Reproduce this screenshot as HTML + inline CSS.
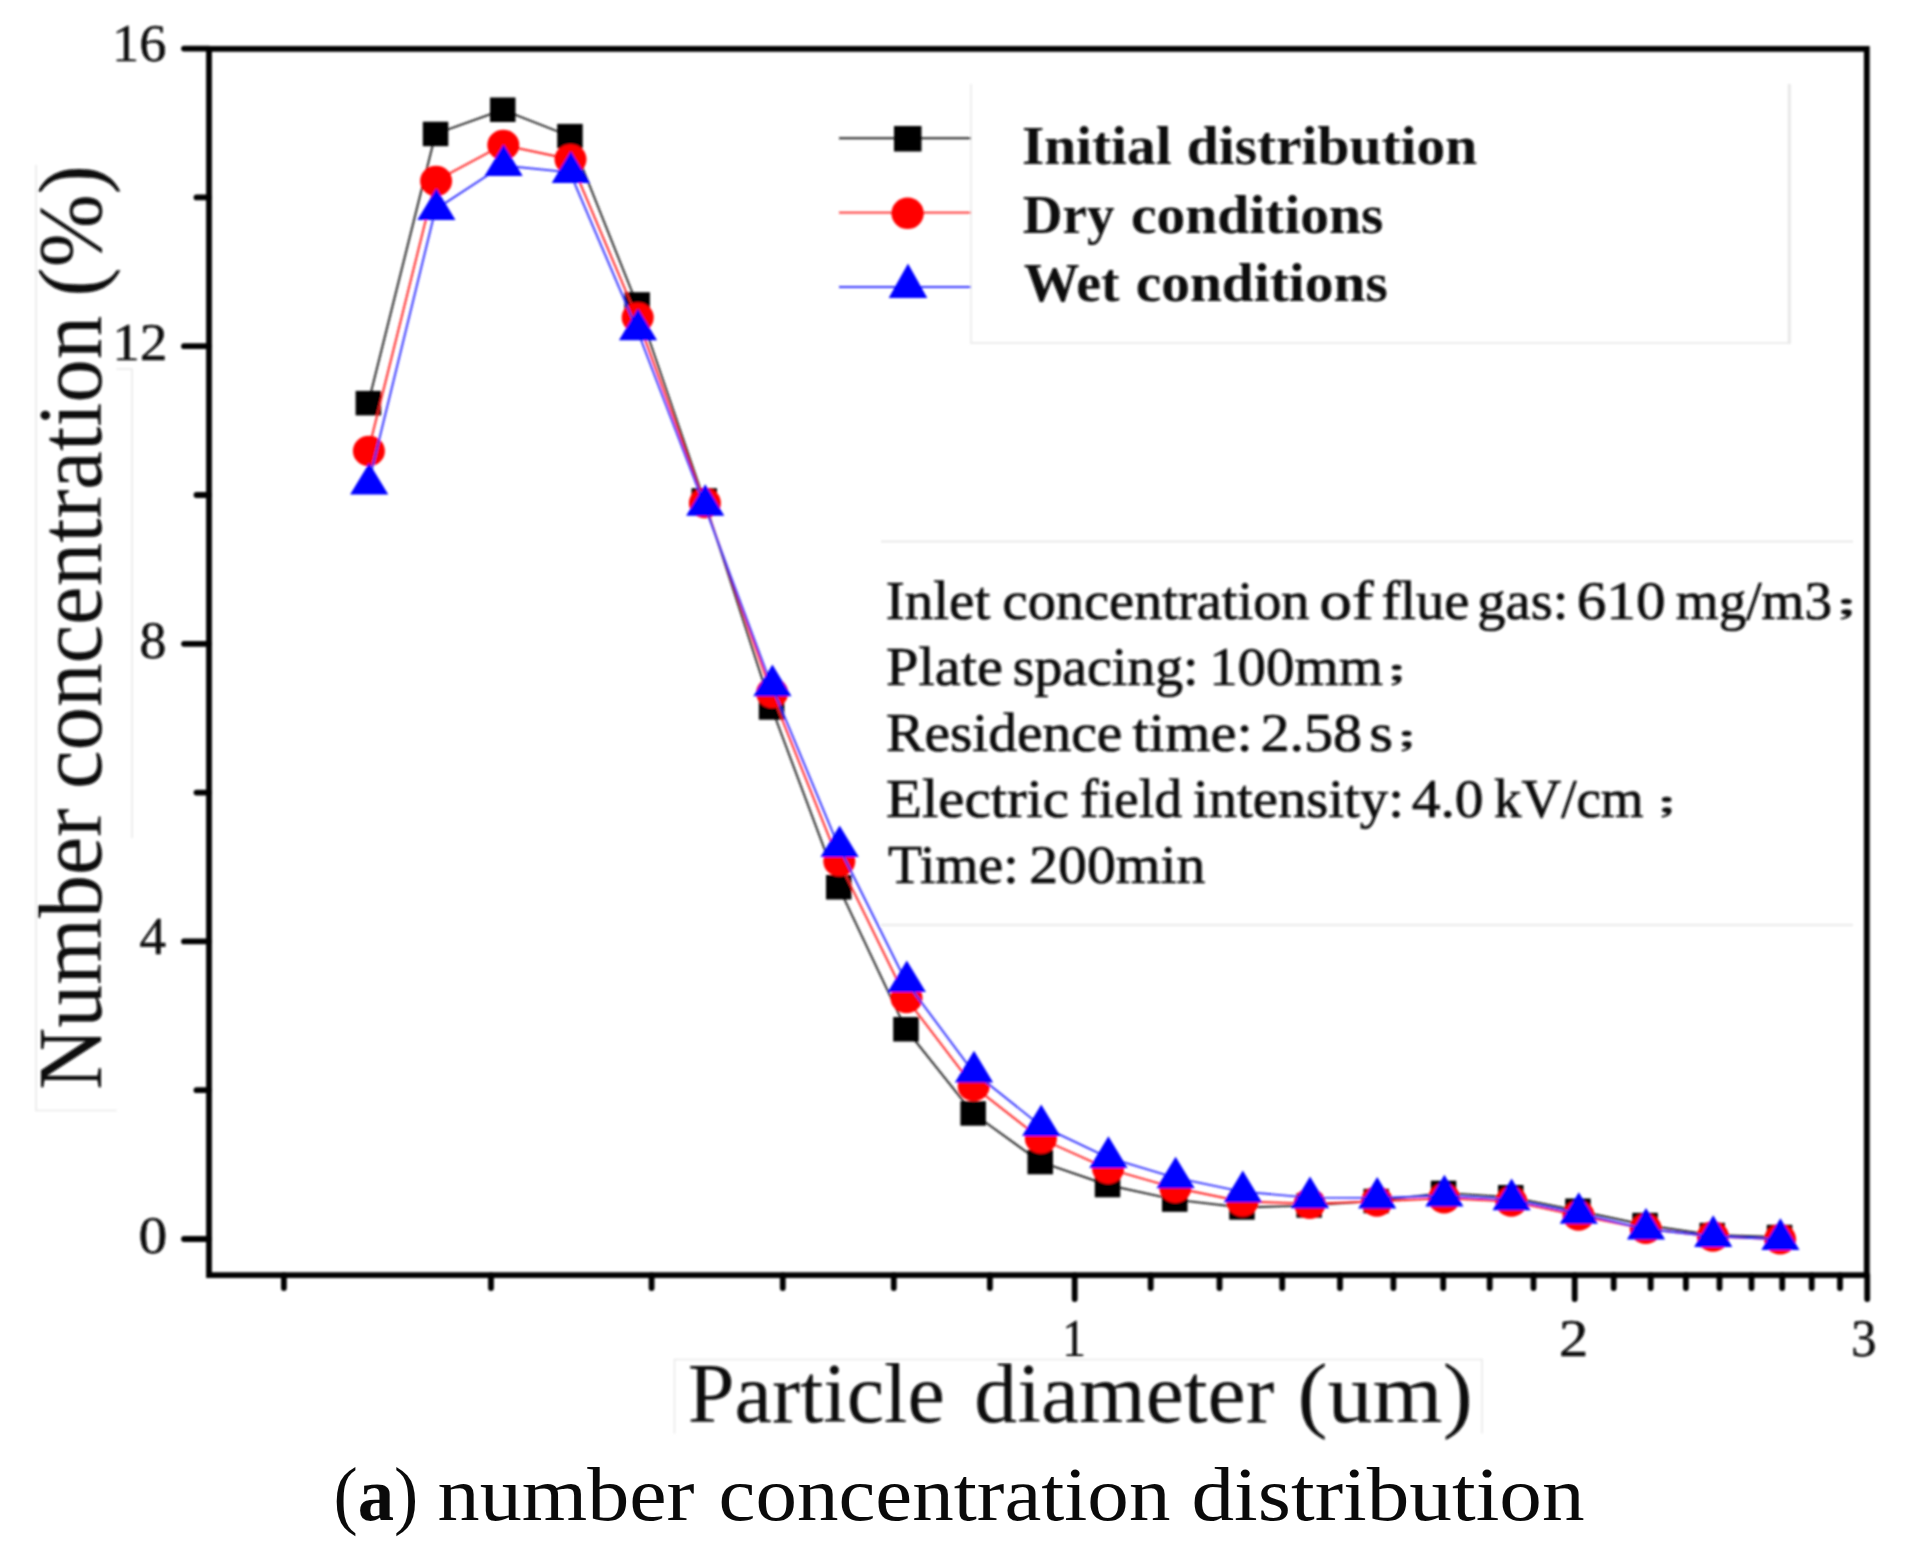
<!DOCTYPE html>
<html lang="en"><head><meta charset="utf-8"><title>(a) number concentration distribution</title>
<style>html,body{margin:0;padding:0;background:#fff}body{width:1906px;height:1568px;overflow:hidden}svg{display:block}text{font-family:"Liberation Serif","Noto Serif CJK SC",serif;fill:#0a0a0a}.cj{font-family:"Noto Serif CJK SC","Noto Sans CJK SC",serif;font-weight:bold}</style></head><body>
<svg width="1906" height="1568" viewBox="0 0 1906 1568">
<rect width="1906" height="1568" fill="#fff"/>
<defs><filter id="soft" filterUnits="userSpaceOnUse" x="0" y="0" width="1906" height="1568"><feGaussianBlur stdDeviation="0.8"/></filter></defs>
<g filter="url(#soft)">
<g fill="none" stroke="#e9e9e9" stroke-width="1.6">
<path d="M36 165V1110.5H116.5"/>
<path d="M116.5 369H132V838"/>
<path d="M674.5 1433.5V1359.5H1482V1433.5"/>
</g>
<path d="M971 84V343H1789.3" fill="none" stroke="#ececec" stroke-width="1.8"/>
<path d="M1789.3 84V344" fill="none" stroke="#e8e8e8" stroke-width="3"/>
<g stroke="#e2e2e2" stroke-width="1.6"><path d="M881 541.5H1853"/><path d="M881 925H1853"/></g>
<polyline points="368.3,403.1 435.5,133.9 502.7,109.8 569.9,136.2 637.1,304.5 704.3,500.5 771.5,707.5 838.7,887.2 905.9,1029.2 973.1,1113.4 1040.3,1162.0 1107.5,1185.0 1174.7,1199.6 1241.9,1207.5 1309.1,1205.4 1376.3,1201.0 1443.5,1192.9 1510.7,1197.2 1577.9,1210.8 1645.1,1225.0 1712.3,1235.0 1779.5,1237.0" fill="none" stroke="#222" stroke-width="1.9"/>
<g fill="#000">
<rect x="355.6" y="390.9" width="25.5" height="24.5"/>
<rect x="422.8" y="121.7" width="25.5" height="24.5"/>
<rect x="490.0" y="97.5" width="25.5" height="24.5"/>
<rect x="557.2" y="123.9" width="25.5" height="24.5"/>
<rect x="624.4" y="292.2" width="25.5" height="24.5"/>
<rect x="691.5" y="488.2" width="25.5" height="24.5"/>
<rect x="758.8" y="695.2" width="25.5" height="24.5"/>
<rect x="826.0" y="875.0" width="25.5" height="24.5"/>
<rect x="893.2" y="1017.0" width="25.5" height="24.5"/>
<rect x="960.4" y="1101.2" width="25.5" height="24.5"/>
<rect x="1027.5" y="1149.8" width="25.5" height="24.5"/>
<rect x="1094.8" y="1172.8" width="25.5" height="24.5"/>
<rect x="1162.0" y="1187.3" width="25.5" height="24.5"/>
<rect x="1229.2" y="1195.2" width="25.5" height="24.5"/>
<rect x="1296.4" y="1193.2" width="25.5" height="24.5"/>
<rect x="1363.5" y="1188.8" width="25.5" height="24.5"/>
<rect x="1430.8" y="1180.7" width="25.5" height="24.5"/>
<rect x="1498.0" y="1185.0" width="25.5" height="24.5"/>
<rect x="1565.2" y="1198.5" width="25.5" height="24.5"/>
<rect x="1632.3" y="1212.8" width="25.5" height="24.5"/>
<rect x="1699.5" y="1222.8" width="25.5" height="24.5"/>
<rect x="1766.8" y="1224.8" width="25.5" height="24.5"/>
</g>
<polyline points="368.3,451.0 435.5,181.0 502.7,145.0 569.9,159.2 637.1,317.6 704.3,503.0 771.5,692.9 838.7,861.2 905.9,998.0 973.1,1086.0 1040.3,1138.5 1107.5,1168.6 1174.7,1187.8 1241.9,1201.5 1309.1,1203.6 1376.3,1201.5 1443.5,1198.3 1510.7,1201.5 1577.9,1215.5 1645.1,1228.7 1712.3,1236.5 1779.5,1239.2" fill="none" stroke="#ff2020" stroke-width="1.9"/>
<g fill="#ff0000">
<ellipse cx="368.9" cy="451.0" rx="16" ry="15.3"/>
<ellipse cx="436.1" cy="181.0" rx="16" ry="15.3"/>
<ellipse cx="503.3" cy="145.0" rx="16" ry="15.3"/>
<ellipse cx="570.5" cy="159.2" rx="16" ry="15.3"/>
<ellipse cx="637.7" cy="317.6" rx="16" ry="15.3"/>
<ellipse cx="704.9" cy="503.0" rx="16" ry="15.3"/>
<ellipse cx="772.1" cy="692.9" rx="16" ry="15.3"/>
<ellipse cx="839.3" cy="861.2" rx="16" ry="15.3"/>
<ellipse cx="906.5" cy="998.0" rx="16" ry="15.3"/>
<ellipse cx="973.7" cy="1086.0" rx="16" ry="15.3"/>
<ellipse cx="1040.9" cy="1138.5" rx="16" ry="15.3"/>
<ellipse cx="1108.1" cy="1168.6" rx="16" ry="15.3"/>
<ellipse cx="1175.3" cy="1187.8" rx="16" ry="15.3"/>
<ellipse cx="1242.5" cy="1201.5" rx="16" ry="15.3"/>
<ellipse cx="1309.7" cy="1203.6" rx="16" ry="15.3"/>
<ellipse cx="1376.9" cy="1201.5" rx="16" ry="15.3"/>
<ellipse cx="1444.1" cy="1198.3" rx="16" ry="15.3"/>
<ellipse cx="1511.3" cy="1201.5" rx="16" ry="15.3"/>
<ellipse cx="1578.5" cy="1215.5" rx="16" ry="15.3"/>
<ellipse cx="1645.7" cy="1228.7" rx="16" ry="15.3"/>
<ellipse cx="1712.9" cy="1236.5" rx="16" ry="15.3"/>
<ellipse cx="1780.1" cy="1239.2" rx="16" ry="15.3"/>
</g>
<polyline points="368.3,483.9 435.5,209.4 502.7,165.5 569.9,172.3 637.1,329.7 704.3,505.2 771.5,685.6 838.7,846.5 905.9,981.5 973.1,1071.8 1040.3,1125.4 1107.5,1157.3 1174.7,1177.7 1241.9,1191.6 1309.1,1197.6 1376.3,1197.9 1443.5,1195.8 1510.7,1199.6 1577.9,1213.2 1645.1,1229.0 1712.3,1236.3 1779.5,1239.3" fill="none" stroke="#3030ff" stroke-width="1.9"/>
<g fill="#0000ff">
<path d="M369.2 462.9L388.3 494.5H350.1Z"/>
<path d="M436.4 188.4L455.5 220.0H417.3Z"/>
<path d="M503.6 144.5L522.7 176.1H484.5Z"/>
<path d="M570.8 151.3L589.9 182.9H551.7Z"/>
<path d="M638.0 308.7L657.1 340.3H618.9Z"/>
<path d="M705.2 484.2L724.3 515.8H686.1Z"/>
<path d="M772.4 664.6L791.5 696.2H753.3Z"/>
<path d="M839.6 825.5L858.7 857.1H820.5Z"/>
<path d="M906.8 960.5L925.9 992.1H887.7Z"/>
<path d="M974.0 1050.8L993.1 1082.4H954.9Z"/>
<path d="M1041.2 1104.4L1060.3 1136.0H1022.1Z"/>
<path d="M1108.4 1136.3L1127.5 1167.9H1089.3Z"/>
<path d="M1175.6 1156.7L1194.7 1188.3H1156.5Z"/>
<path d="M1242.8 1170.6L1261.9 1202.2H1223.7Z"/>
<path d="M1310.0 1176.6L1329.1 1208.2H1290.9Z"/>
<path d="M1377.2 1176.9L1396.3 1208.5H1358.1Z"/>
<path d="M1444.4 1174.8L1463.5 1206.4H1425.3Z"/>
<path d="M1511.6 1178.6L1530.7 1210.2H1492.5Z"/>
<path d="M1578.8 1192.2L1597.9 1223.8H1559.7Z"/>
<path d="M1646.0 1208.0L1665.1 1239.6H1626.9Z"/>
<path d="M1713.2 1215.3L1732.3 1246.9H1694.1Z"/>
<path d="M1780.4 1218.3L1799.5 1249.9H1761.3Z"/>
</g>
<g stroke-width="1.9" fill="none"><path d="M839 138.3H971" stroke="#222"/><path d="M839 212.6H971" stroke="#ff2020"/><path d="M839 287H971" stroke="#3030ff"/></g>
<rect x="894" y="126" width="27.5" height="25.5" fill="#000"/>
<ellipse cx="907.6" cy="213.3" rx="16.2" ry="15.8" fill="#f00"/>
<path d="M908 263.5L927.3 298H888.7Z" fill="#00f"/>
<g font-weight="bold" font-size="54px">
<text y="163.9"><tspan x="1021.9" textLength="149.7" lengthAdjust="spacingAndGlyphs">Initial</tspan> <tspan x="1186.8" textLength="290.3" lengthAdjust="spacingAndGlyphs">distribution</tspan></text>
<text y="232.6"><tspan x="1022.8" textLength="91.6" lengthAdjust="spacingAndGlyphs">Dry</tspan> <tspan x="1130.9" textLength="252.5" lengthAdjust="spacingAndGlyphs">conditions</tspan></text>
<text y="301.3"><tspan x="1023.7" textLength="95.9" lengthAdjust="spacingAndGlyphs">Wet</tspan> <tspan x="1135.7" textLength="252.1" lengthAdjust="spacingAndGlyphs">conditions</tspan></text>
</g>
<g font-size="54px" fill="#111" stroke="#111" stroke-width="0.7">
<text y="618.6"><tspan x="885.7" textLength="104.6" lengthAdjust="spacingAndGlyphs">Inlet</tspan> <tspan x="1002.6" textLength="307.0" lengthAdjust="spacingAndGlyphs">concentration</tspan> <tspan x="1319.6" textLength="54.0" lengthAdjust="spacingAndGlyphs">of</tspan> <tspan x="1381.4" textLength="88.0" lengthAdjust="spacingAndGlyphs">flue</tspan> <tspan x="1477.3" textLength="91.1" lengthAdjust="spacingAndGlyphs">gas:</tspan> <tspan x="1576.7" textLength="88.8" lengthAdjust="spacingAndGlyphs">610</tspan> <tspan x="1675.8" textLength="156.2" lengthAdjust="spacingAndGlyphs">mg/m3</tspan><tspan x="1832.2" textLength="52.6" lengthAdjust="spacingAndGlyphs" class="cj" font-size="27.5px" dy="-3.8">；</tspan></text>
<text y="684.5"><tspan x="886.1" textLength="116.7" lengthAdjust="spacingAndGlyphs">Plate</tspan> <tspan x="1012.8" textLength="185.8" lengthAdjust="spacingAndGlyphs">spacing:</tspan> <tspan x="1209.2" textLength="173.7" lengthAdjust="spacingAndGlyphs">100mm</tspan><tspan x="1384.1" textLength="47.4" lengthAdjust="spacingAndGlyphs" class="cj" font-size="27.5px" dy="-3.8">；</tspan></text>
<text y="750.5"><tspan x="886.1" textLength="236.3" lengthAdjust="spacingAndGlyphs">Residence</tspan> <tspan x="1132.6" textLength="120.2" lengthAdjust="spacingAndGlyphs">time:</tspan> <tspan x="1260.5" textLength="101.6" lengthAdjust="spacingAndGlyphs">2.58</tspan> <tspan x="1369.3" textLength="23.8" lengthAdjust="spacingAndGlyphs">s</tspan><tspan x="1394.1" textLength="47.4" lengthAdjust="spacingAndGlyphs" class="cj" font-size="27.5px" dy="-3.8">；</tspan></text>
<text y="816.5"><tspan x="886.1" textLength="182.9" lengthAdjust="spacingAndGlyphs">Electric</tspan> <tspan x="1080.1" textLength="101.9" lengthAdjust="spacingAndGlyphs">field</tspan> <tspan x="1193.0" textLength="210.9" lengthAdjust="spacingAndGlyphs">intensity:</tspan> <tspan x="1411.7" textLength="71.9" lengthAdjust="spacingAndGlyphs">4.0</tspan> <tspan x="1494.0" textLength="149.5" lengthAdjust="spacingAndGlyphs">kV/cm</tspan><tspan x="1654.1" textLength="47.4" lengthAdjust="spacingAndGlyphs" class="cj" font-size="27.5px" dy="-3.8">；</tspan></text>
<text y="882.5"><tspan x="888.0" textLength="130.6" lengthAdjust="spacingAndGlyphs">Time:</tspan> <tspan x="1029.3" textLength="176.1" lengthAdjust="spacingAndGlyphs">200min</tspan></text>
</g>
<g stroke="#000" stroke-width="5.8" fill="none" stroke-linecap="round">
<path d="M209.0 48.8H1866.8V1275.2H209.0Z" stroke-linejoin="miter"/>
<path d="M184 1239.0H209.0"/>
<path d="M196.5 1090.2H209.0"/>
<path d="M184 941.4H209.0"/>
<path d="M196.5 792.6H209.0"/>
<path d="M184 643.8H209.0"/>
<path d="M196.5 495.0H209.0"/>
<path d="M184 346.2H209.0"/>
<path d="M196.5 197.4H209.0"/>
<path d="M184 48.6H209.0"/>
<path d="M283.9 1275.2V1288"/>
<path d="M491.0 1275.2V1288"/>
<path d="M651.6 1275.2V1288"/>
<path d="M782.8 1275.2V1288"/>
<path d="M893.8 1275.2V1288"/>
<path d="M989.9 1275.2V1288"/>
<path d="M1074.7 1275.2V1299"/>
<path d="M1150.7 1275.2V1288"/>
<path d="M1219.5 1275.2V1288"/>
<path d="M1282.2 1275.2V1288"/>
<path d="M1340.0 1275.2V1288"/>
<path d="M1393.4 1275.2V1288"/>
<path d="M1443.2 1275.2V1288"/>
<path d="M1489.7 1275.2V1288"/>
<path d="M1533.5 1275.2V1288"/>
<path d="M1574.7 1275.2V1299"/>
<path d="M1613.7 1275.2V1288"/>
<path d="M1650.7 1275.2V1288"/>
<path d="M1685.9 1275.2V1288"/>
<path d="M1719.5 1275.2V1288"/>
<path d="M1751.5 1275.2V1288"/>
<path d="M1782.2 1275.2V1288"/>
<path d="M1811.7 1275.2V1288"/>
<path d="M1840.0 1275.2V1288"/>
<path d="M1867.2 1275.2V1299"/>
</g>
<g font-size="52px" stroke="#0a0a0a" stroke-width="0.4">
<text y="60.7"><tspan x="112.0" textLength="54.4" lengthAdjust="spacingAndGlyphs">16</tspan></text>
<text y="360.3"><tspan x="112.2" textLength="55.3" lengthAdjust="spacingAndGlyphs">12</tspan></text>
<text y="657.5"><tspan x="139.4" textLength="26.9" lengthAdjust="spacingAndGlyphs">8</tspan></text>
<text y="954.0"><tspan x="139.5" textLength="26.5" lengthAdjust="spacingAndGlyphs">4</tspan></text>
<text y="1252.6"><tspan x="138.5" textLength="28.8" lengthAdjust="spacingAndGlyphs">0</tspan></text>
<text y="1355.8"><tspan x="1062.2" textLength="23.7" lengthAdjust="spacingAndGlyphs">1</tspan></text>
<text y="1355.8"><tspan x="1558.9" textLength="29.3" lengthAdjust="spacingAndGlyphs">2</tspan></text>
<text y="1355.8"><tspan x="1851.2" textLength="25.2" lengthAdjust="spacingAndGlyphs">3</tspan></text>
</g>
<text transform="translate(100.8 0) rotate(-90)" font-size="91px"><tspan x="-1089.7" textLength="281.3" lengthAdjust="spacingAndGlyphs">Number</tspan> <tspan x="-789.1" textLength="473.4" lengthAdjust="spacingAndGlyphs">concentration</tspan> <tspan x="-296.5" textLength="131.4" lengthAdjust="spacingAndGlyphs">(%)</tspan></text>
<text y="1421.5" font-size="85px"><tspan x="687.7" textLength="257.2" lengthAdjust="spacingAndGlyphs">Particle</tspan> <tspan x="974.3" textLength="299.9" lengthAdjust="spacingAndGlyphs">diameter</tspan> <tspan x="1297.5" textLength="175.2" lengthAdjust="spacingAndGlyphs">(um)</tspan></text>
</g>
<text y="1519.6" font-size="77px" fill="#000"><tspan x="333.5" textLength="84.8" lengthAdjust="spacingAndGlyphs">(<tspan font-weight="bold">a</tspan>)</tspan> <tspan x="437.6" textLength="257.0" lengthAdjust="spacingAndGlyphs">number</tspan> <tspan x="718.6" textLength="451.8" lengthAdjust="spacingAndGlyphs">concentration</tspan> <tspan x="1191.5" textLength="393.1" lengthAdjust="spacingAndGlyphs">distribution</tspan></text>
</svg></body></html>
